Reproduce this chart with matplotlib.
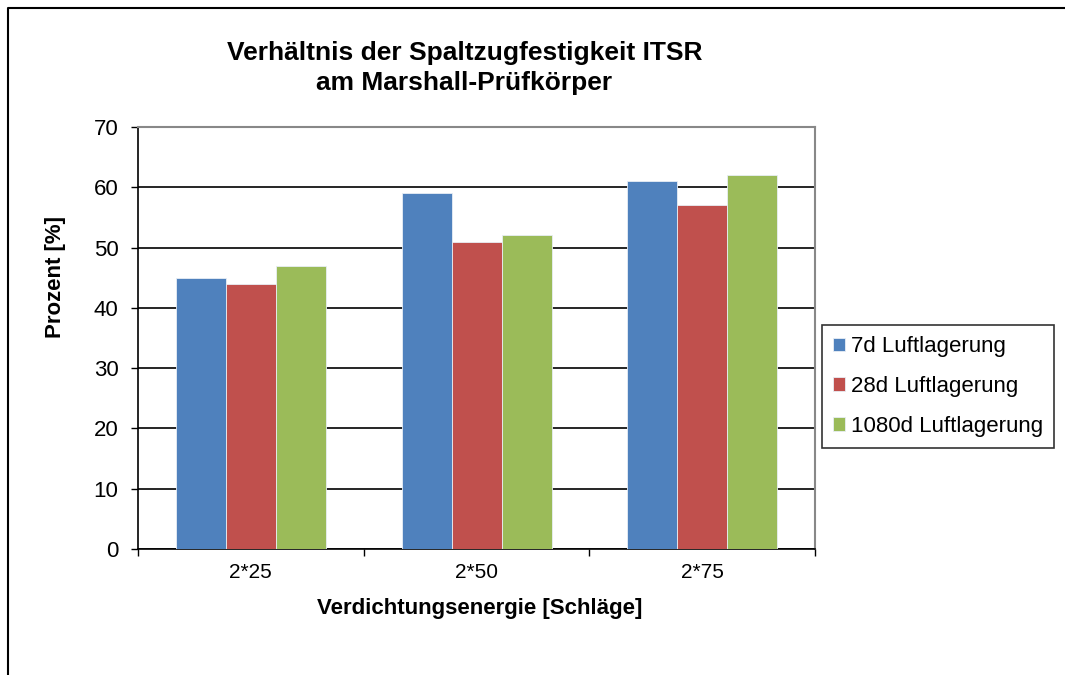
import numpy as np
import matplotlib
matplotlib.use("Agg")
import matplotlib.pyplot as plt
from matplotlib.lines import Line2D

plt.rcParams['font.family'] = ['Liberation Sans', 'DejaVu Sans']

# data
categories = ["2*25", "2*50", "2*75"]
series_names = ["7d Luftlagerung", "28d Luftlagerung", "1080d Luftlagerung"]
vals_7d = [45, 59, 61]
vals_28d = [44, 51, 57]
vals_1080d = [47, 52, 62]
colors = ["#4F81BD", "#C0504D", "#9BBB59"]

fig = plt.figure(figsize=(10.65, 6.75), dpi=100)
ax = fig.add_axes([0.1296, 0.1867, 0.6357, 0.6252])

x = np.arange(len(categories))
w = 0.2215
for i, (vals, name) in enumerate(zip([vals_7d, vals_28d, vals_1080d], series_names)):
    ax.bar(x + (i - 1) * w, vals, width=w, color=colors[i], label=name,
           edgecolor="#e8eef5", linewidth=0.6, zorder=3)

ax.set_xlim(-0.5, 2.5)
ax.set_ylim(0, 70)
ax.set_yticks(range(0, 71, 10))
ax.tick_params(axis='y', labelsize=16, length=5, width=1, direction='out', pad=9)
ax.set_xticks(x)
ax.set_xticklabels(categories)
ax.tick_params(axis='x', which='major', length=0, labelsize=15, pad=10)
ax.set_xticks([-0.5, 0.5, 1.5, 2.5], minor=True)
ax.tick_params(axis='x', which='minor', length=5, width=1, direction='out')

ax.yaxis.grid(True, color='black', linewidth=1.2, zorder=0)
ax.set_axisbelow(True)
for s in ['top', 'right']:
    ax.spines[s].set_color('#888888')
    ax.spines[s].set_linewidth(1.5)
ax.spines['left'].set_linewidth(1.2)
ax.spines['bottom'].set_linewidth(1.2)

ax.set_ylabel("Prozent [%]", fontsize=16, fontweight='bold', va='center')
ax.yaxis.set_label_coords((55 - 138) / 677, (549 - 277.5) / 422)
ax.set_xlabel("Verdichtungsenergie [Schläge]", fontsize=16, fontweight='bold', va='center')
ax.xaxis.set_label_coords((480 - 138) / 677, -60 / 422)

fig.text(0.436, 0.899, "Verhältnis der Spaltzugfestigkeit ITSR\nam Marshall-Prüfkörper",
         ha='center', va='center', fontsize=19, fontweight='bold', linespacing=1.3)

leg = fig.legend(loc='upper left', bbox_to_anchor=(822 / 1065, 1 - 325 / 675),
                 fontsize=16, frameon=True, fancybox=False, edgecolor='black',
                 handlelength=0.55, handleheight=0.55, handletextpad=0.25,
                 labelspacing=0.85, borderpad=0.5, borderaxespad=0)
leg.get_frame().set_linewidth(1.2)

# outer chart border
fig.add_artist(Line2D([8 / 1065, 8 / 1065, 1.0], [0.0, 1 - 8 / 675, 1 - 8 / 675],
                      color='black', linewidth=1.5, transform=fig.transFigure))

fig.savefig("out.png", dpi=100)
